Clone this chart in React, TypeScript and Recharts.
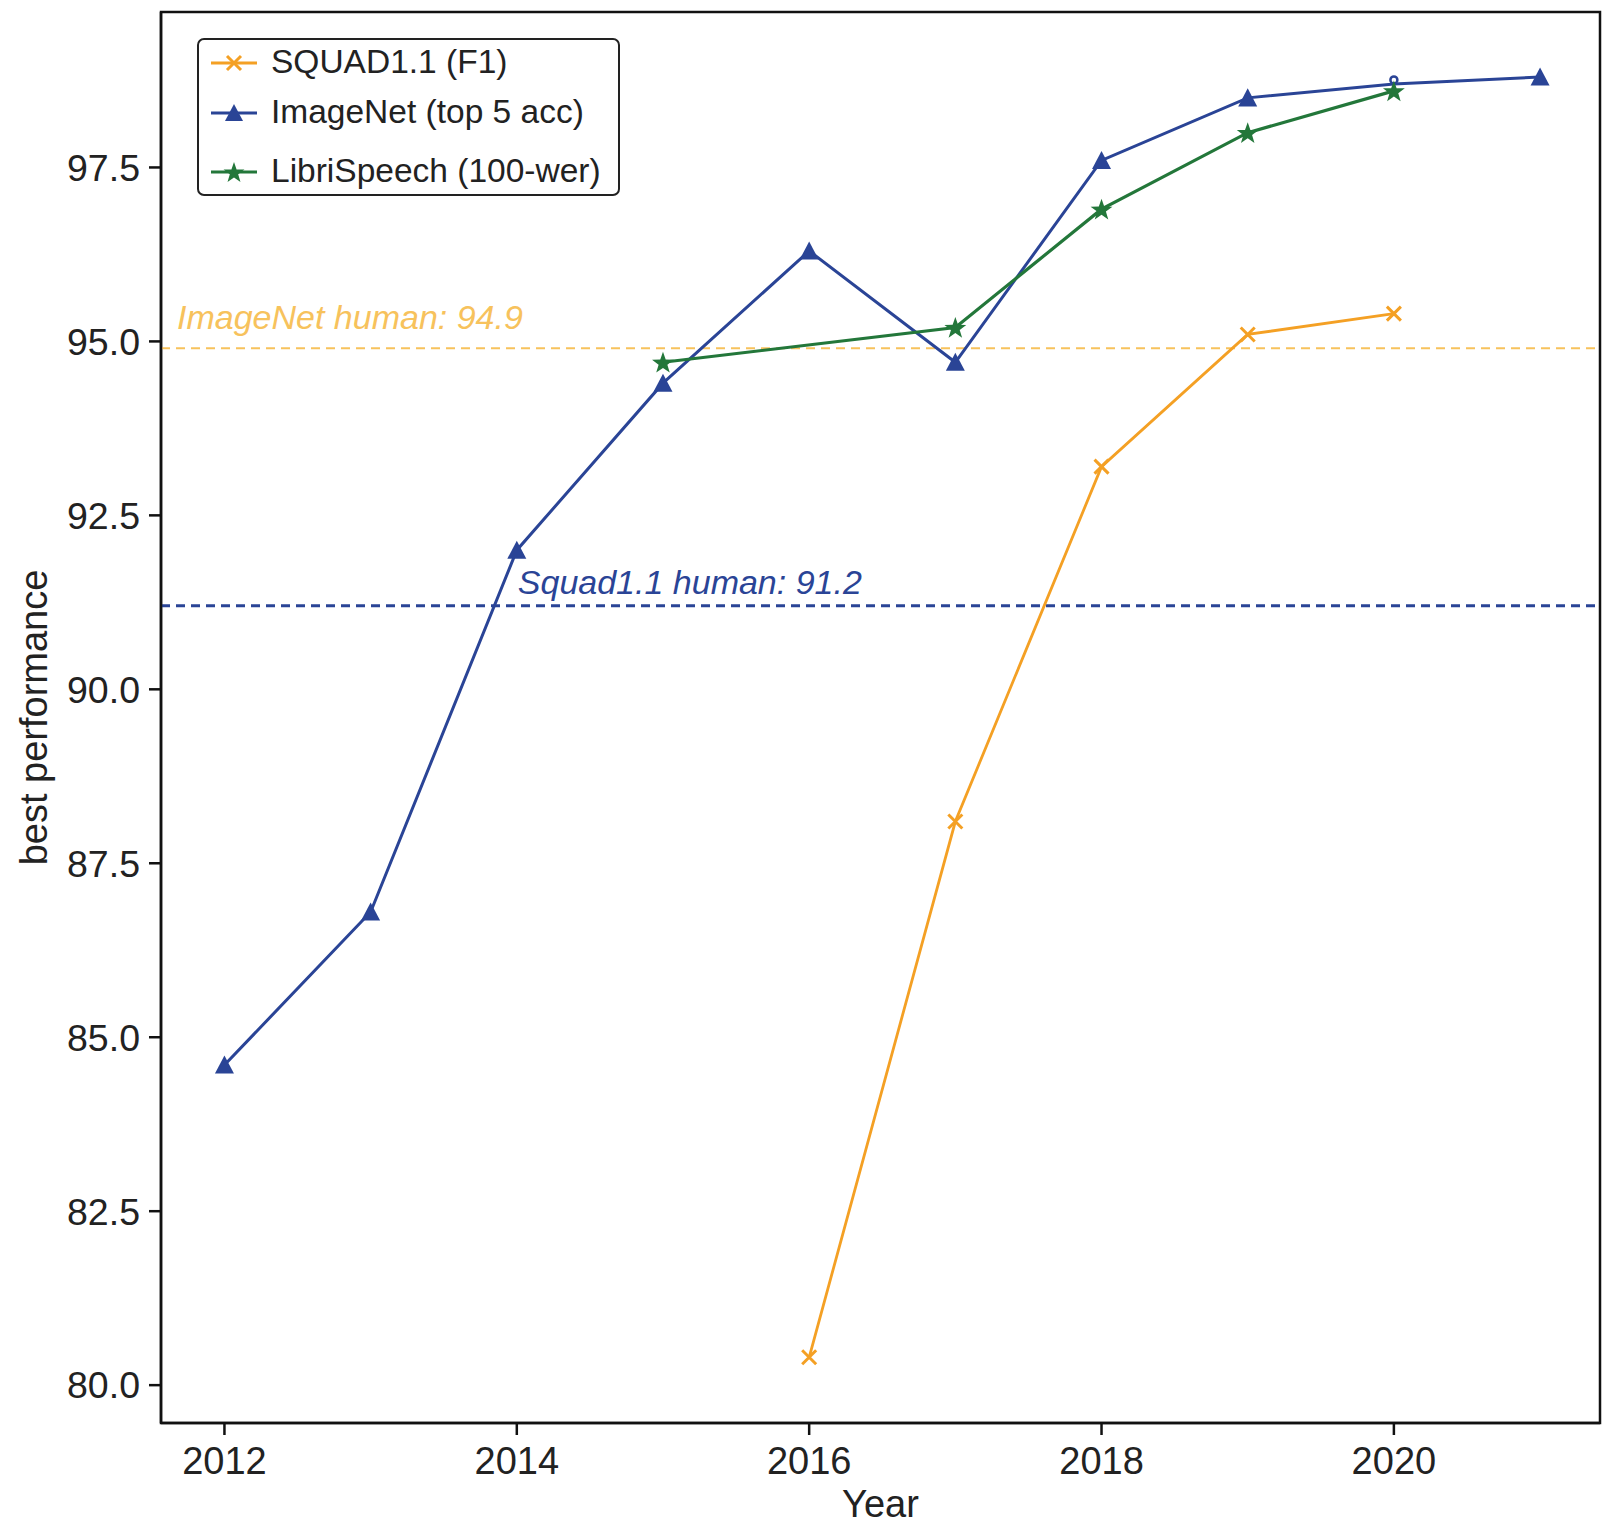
import { LineChart, Line, XAxis, YAxis, ReferenceLine, ReferenceDot, ReferenceArea, Legend } from 'recharts'

const years = [2012, 2013, 2014, 2015, 2016, 2017, 2018, 2019, 2020, 2021]
const imagenet = [84.6, 86.8, 92.0, 94.4, 96.3, 94.7, 97.6, 98.5, 98.7, 98.8]
const squad = [null, null, null, null, 80.4, 88.1, 93.2, 95.1, 95.4, null]
const libri = [null, null, null, 94.7, null, 95.2, 96.9, 98.0, 98.6, null]

const xTicks = [2012, 2014, 2016, 2018, 2020]
const yTicks = [80, 82.5, 85, 87.5, 90, 92.5, 95, 97.5]

// axis limits
const xDomain: [number, number] = [2011.566, 2021.41]
const yDomain: [number, number] = [79.456, 99.734]

const imagenetHuman = 94.9
const squadHuman = 91.2
const squadLabelYear = 2014
const imagenetCircleYear = 2020

const ORANGE = '#F4A024'
const BLUE = '#2A4496'
const GREEN = '#23773A'
const LIGHT_ORANGE = '#F7C25C'
const INK = '#222'
const FONT = '"Liberation Sans", Arial, Helvetica, sans-serif'

const data = years.map((year, i) => ({
  year,
  imagenet: imagenet[i],
  squad: squad[i],
  libri: libri[i],
}))

function starPath(cx: number, cy: number, outer: number, inner: number) {
  let d = ''
  for (let i = 0; i < 10; i++) {
    const r = i % 2 === 0 ? outer : inner
    const a = -Math.PI / 2 + (i * Math.PI) / 5
    d += (i === 0 ? 'M' : 'L') + (cx + r * Math.cos(a)).toFixed(2) + ',' + (cy + r * Math.sin(a)).toFixed(2)
  }
  return d + 'Z'
}

const trianglePath = (cx: number, cy: number, s: number) =>
  `M${cx},${cy - s}L${cx + s},${cy + s * 0.9}L${cx - s},${cy + s * 0.9}Z`

function TriangleDot(props: any) {
  const { cx, cy, index, payload } = props
  if (cx == null || cy == null) return <g key={`tri-${index}`} />
  if (payload && payload.year === imagenetCircleYear) {
    return <circle key={`tri-${index}`} cx={cx} cy={cy - 4} r={3.5} fill="#fff" stroke={BLUE} strokeWidth={2.5} />
  }
  return <path key={`tri-${index}`} d={trianglePath(cx, cy, 9.5)} fill={BLUE} />
}

function StarDot(props: any) {
  const { cx, cy, index } = props
  if (cx == null || cy == null) return <g key={`star-${index}`} />
  return <path key={`star-${index}`} d={starPath(cx, cy + 1, 11.5, 4.6)} fill={GREEN} />
}

function CrossDot(props: any) {
  const { cx, cy, index } = props
  if (cx == null || cy == null) return <g key={`x-${index}`} />
  const s = 7
  return (
    <path
      key={`x-${index}`}
      d={`M${cx - s},${cy - s}L${cx + s},${cy + s}M${cx - s},${cy + s}L${cx + s},${cy - s}`}
      stroke={ORANGE}
      strokeWidth={3}
      fill="none"
    />
  )
}

const legendItems = [
  { name: 'SQUAD1.1 (F1)', color: ORANGE, marker: 'x', top: 23 },
  { name: 'ImageNet (top 5 acc)', color: BLUE, marker: 'tri', top: 73 },
  { name: 'LibriSpeech (100-wer)', color: GREEN, marker: 'star', top: 132 },
]

function LegendBox() {
  return (
    <div
      style={{
        position: 'relative',
        width: 419,
        height: 154,
        border: `2.5px solid ${INK}`,
        borderRadius: 7,
        background: '#fff',
        fontFamily: FONT,
        fontSize: 33.5,
        color: INK,
      }}
    >
      {legendItems.map((it) => (
        <div key={it.name} style={{ position: 'absolute', left: 0, top: it.top, height: 0 }}>
          <svg width={60} height={30} style={{ position: 'absolute', left: 12, top: -15 }}>
            <line x1={0} y1={15} x2={46} y2={15} stroke={it.color} strokeWidth={3} />
            {it.marker === 'x' && (
              <path d="M16,8L30,22M16,22L30,8" stroke={it.color} strokeWidth={3} />
            )}
            {it.marker === 'tri' && <path d={trianglePath(23, 15, 9)} fill={it.color} />}
            {it.marker === 'star' && <path d={starPath(23, 16, 11, 4.4)} fill={it.color} />}
          </svg>
          <span style={{ position: 'absolute', left: 72, top: -20, whiteSpace: 'nowrap', lineHeight: '38px' }}>
            {it.name}
          </span>
        </div>
      ))}
    </div>
  )
}

export default function App() {
  const axisLine = { stroke: '#111', strokeWidth: 2.5 }
  return (
    <div style={{ position: 'absolute', left: 0, top: 0, width: 1603, height: 1526, background: '#fff' }}>
      <LineChart
        width={1603}
        height={1526}
        data={data}
        margin={{ top: 12, right: 3, left: 0, bottom: 0 }}
        style={{ fontFamily: FONT }}
      >
        <XAxis
          dataKey="year"
          type="number"
          domain={xDomain}
          ticks={xTicks}
          allowDataOverflow
          height={103}
          axisLine={axisLine}
          tickLine={{ stroke: '#111', strokeWidth: 2.5 }}
          tickSize={12}
          tickMargin={12}
          tick={{ fill: INK, fontSize: 38 }}
          label={{
            value: 'Year',
            content: ({ viewBox }: any) => (
              <text
                x={viewBox.x + viewBox.width / 2}
                y={viewBox.y + 94}
                textAnchor="middle"
                fill={INK}
                fontSize={38}
                fontFamily={FONT}
              >
                Year
              </text>
            ),
          }}
        />
        <YAxis
          type="number"
          domain={yDomain}
          ticks={yTicks}
          allowDataOverflow
          width={161}
          axisLine={axisLine}
          tickLine={{ stroke: '#111', strokeWidth: 2.5 }}
          tickSize={12}
          tickMargin={9}
          tick={{ fill: INK, fontSize: 37.5 }}
          tickFormatter={(v: number) => v.toFixed(1)}
          label={{
            value: 'best performance',
            content: ({ viewBox }: any) => {
              const x = viewBox.x + 34
              const y = viewBox.y + viewBox.height / 2
              return (
                <text
                  x={x}
                  y={y}
                  transform={`rotate(-90 ${x} ${y})`}
                  textAnchor="middle"
                  dominantBaseline="central"
                  fill={INK}
                  fontSize={38}
                  fontFamily={FONT}
                >
                  best performance
                </text>
              )
            },
          }}
        />

        {/* full frame like matplotlib spines */}
        <ReferenceArea
          x1={xDomain[0]}
          x2={xDomain[1]}
          y1={yDomain[0]}
          y2={yDomain[1]}
          fill="none"
          fillOpacity={0}
          stroke="#111"
          strokeWidth={2.5}
          ifOverflow="visible"
        />

        <ReferenceLine
          y={imagenetHuman}
          stroke={LIGHT_ORANGE}
          strokeWidth={2}
          strokeDasharray="9 6"
          label={{
            value: `ImageNet human: ${imagenetHuman}`,
            content: ({ viewBox }: any) => (
              <text
                x={viewBox.x + 16}
                y={viewBox.y - 19}
                fill={LIGHT_ORANGE}
                fontSize={34}
                fontStyle="italic"
                fontFamily={FONT}
              >
                {`ImageNet human: ${imagenetHuman}`}
              </text>
            ),
          }}
        />
        <ReferenceLine y={squadHuman} stroke={BLUE} strokeWidth={3} strokeDasharray="9 6" />
        <ReferenceDot
          x={squadLabelYear}
          y={squadHuman}
          r={1}
          fill="none"
          stroke="none"
          label={{
            value: `Squad1.1 human: ${squadHuman}`,
            content: ({ viewBox }: any) => (
              <text
                x={viewBox.x + 2}
                y={viewBox.y - 11}
                fill={BLUE}
                fontSize={34}
                fontStyle="italic"
                fontFamily={FONT}
              >
                {`Squad1.1 human: ${squadHuman}`}
              </text>
            ),
          }}
        />

        <Line
          dataKey="squad"
          name="SQUAD1.1 (F1)"
          stroke={ORANGE}
          strokeWidth={2.8}
          dot={CrossDot}
          activeDot={false}
          isAnimationActive={false}
        />
        <Line
          dataKey="imagenet"
          name="ImageNet (top 5 acc)"
          stroke={BLUE}
          strokeWidth={3}
          dot={TriangleDot}
          activeDot={false}
          isAnimationActive={false}
        />
        <Line
          dataKey="libri"
          name="LibriSpeech (100-wer)"
          stroke={GREEN}
          strokeWidth={3.2}
          connectNulls
          dot={StarDot}
          activeDot={false}
          isAnimationActive={false}
        />
        <Legend
          layout="horizontal"
          verticalAlign="middle"
          align="center"
          content={() => <LegendBox />}
          wrapperStyle={{ position: 'absolute', left: 197, top: 38, width: 'auto' }}
        />
      </LineChart>
    </div>
  )
}
